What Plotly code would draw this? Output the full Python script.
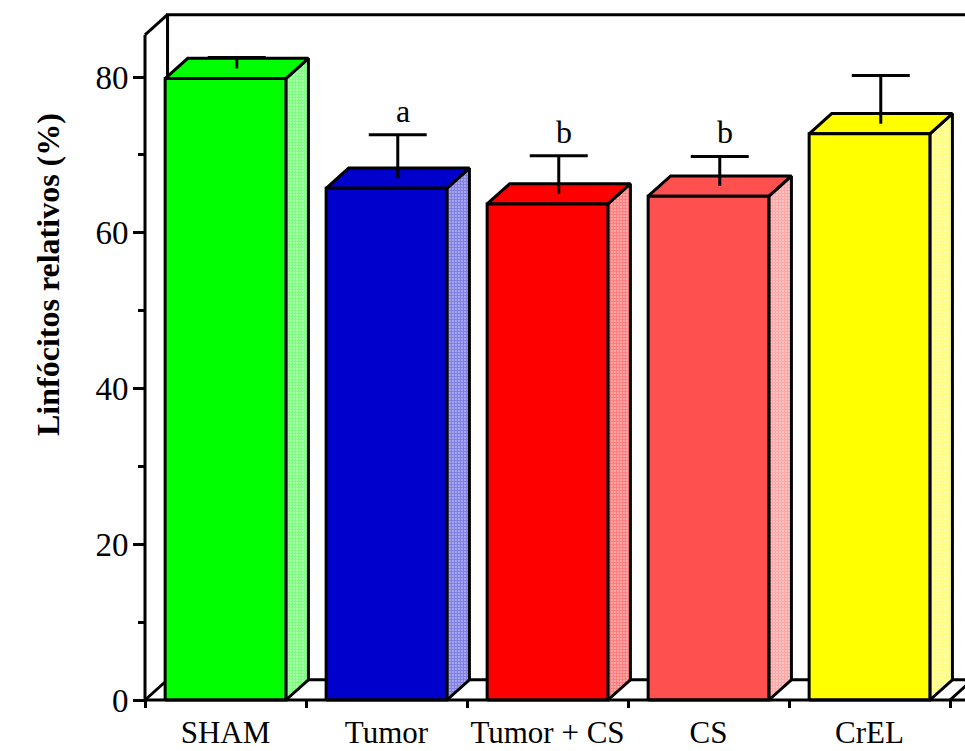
import plotly.graph_objects as go

# Relative lymphocytes per group: mean and SEM (%)
categories = ["SHAM", "Tumor", "Tumor + CS", "CS", "CrEL"]
means = [79.8, 65.7, 63.7, 64.7, 72.7]
sems = [1.4, 5.6, 4.9, 3.8, 6.2]
letters = ["", "a", "b", "b", ""]
colors = ["#00FF00", "#0000CC", "#FF0000", "#FF5050", "#FFFF00"]
y_ticks = [0, 20, 40, 60, 80]
y_minor = [10, 30, 50, 70]

# Pseudo-3D geometry (data units)
BAR_W = 0.75      # front-face width as fraction of category slot
DX = 0.14         # depth offset along x
DY = 2.6          # depth offset along y
Y_TOP = 85.4      # top of the front axis frame
CAP_HALF = 0.18   # half width of the error-bar caps

W, H = 965, 751
PX_X = 161.0      # px per category
PX_Y = 7.7875     # px per unit
X0_PX, Y0_PX = 145, 700
B_MARGIN = 40
inner_h = H - B_MARGIN
x_range = [-X0_PX / PX_X, (W - X0_PX) / PX_X]
y_range = [-(inner_h - Y0_PX) / PX_Y, Y0_PX / PX_Y]
X_RIGHT = x_range[1] + 0.2

LINE = dict(color="black", width=3)
FONT = "Liberation Serif, Times New Roman, serif"

fig = go.Figure()


def add_line(xs, ys):
    fig.add_trace(go.Scatter(x=xs, y=ys, mode="lines", line=LINE,
                             hoverinfo="skip", showlegend=False))


# Back wall and floor frame
add_line([DX, DX, X_RIGHT], [DY, Y_TOP + DY, Y_TOP + DY])
add_line([DX, X_RIGHT], [DY, DY])
add_line([0, DX], [0, DY])
add_line([0, DX], [Y_TOP, Y_TOP + DY])
add_line([5, 5 + DX], [0, DY])

# Bars: side face (dithered), top face, front face
for i, (m, col) in enumerate(zip(means, colors)):
    c = i + 0.5
    xl, xr = c - BAR_W / 2, c + BAR_W / 2
    fig.add_trace(go.Scatter(
        x=[xr, xr + DX, xr + DX, xr, xr], y=[0, DY, m + DY, m, 0],
        mode="lines", fill="toself", line=LINE, fillcolor="white",
        fillpattern=dict(shape=".", fgcolor=col, bgcolor="white",
                         size=3, solidity=0.8),
        hoverinfo="skip", showlegend=False))
    fig.add_trace(go.Scatter(
        x=[xl, xr, xr + DX, xl + DX, xl], y=[m, m, m + DY, m + DY, m],
        mode="lines", fill="toself", line=LINE, fillcolor=col,
        hoverinfo="skip", showlegend=False))
    fig.add_trace(go.Scatter(
        x=[xl, xr, xr, xl, xl], y=[0, 0, m, m, 0],
        mode="lines", fill="toself", line=LINE, fillcolor=col,
        hoverinfo="skip", showlegend=False))

# Error bars (upper half only) placed at mid-depth of each bar
ex = [i + 0.5 + DX / 2 for i in range(len(means))]
ey = [m + DY / 2 for m in means]
for x, y, s in zip(ex, ey, sems):
    add_line([x, x, None, x - CAP_HALF, x + CAP_HALF],
             [y, y + s, None, y + s, y + s])

# Front axis lines
add_line([0, 0], [0, Y_TOP])
add_line([0, X_RIGHT], [0, 0])

# Significance letters
for x, y, s, lab in zip(ex, ey, sems, letters):
    if lab:
        fig.add_annotation(x=x + 0.03, y=y + s, text=lab, showarrow=False,
                           yanchor="bottom", yshift=4,
                           font=dict(family=FONT, size=32, color="black"))

# Y axis title
fig.add_annotation(xref="paper", yref="paper", x=28 / W,
                   y=(inner_h - 275) / inner_h,
                   text="<b>Linfócitos relativos (%)</b>", textangle=-90,
                   showarrow=False,
                   font=dict(family=FONT, size=32, color="black"))

fig.update_layout(
    width=W, height=H,
    margin=dict(l=0, r=0, t=0, b=B_MARGIN, autoexpand=False),
    paper_bgcolor="white", plot_bgcolor="white",
    showlegend=False,
    xaxis=dict(
        range=x_range, anchor="free", position=(inner_h - Y0_PX) / inner_h,
        automargin=False,
        tickmode="array", tickvals=[i + 0.5 for i in range(len(categories))],
        ticktext=categories, ticks="", ticklabelstandoff=11,
        tickfont=dict(family=FONT, size=31, color="black"),
        minor=dict(tickmode="array", tickvals=list(range(len(categories) + 1)),
                   ticks="outside", ticklen=7, tickwidth=3, tickcolor="black"),
        showgrid=False, zeroline=False, showline=False,
    ),
    yaxis=dict(
        range=y_range, anchor="free", position=X0_PX / W,
        automargin=False,
        tickmode="array", tickvals=y_ticks, ticks="outside",
        ticklen=12, tickwidth=3, tickcolor="black", ticklabelstandoff=-2,
        tickfont=dict(family=FONT, size=33, color="black"),
        minor=dict(tickmode="array", tickvals=y_minor, ticks="outside",
                   ticklen=7, tickwidth=3, tickcolor="black"),
        showgrid=False, zeroline=False, showline=False,
    ),
)

fig.write_html("out.html")
